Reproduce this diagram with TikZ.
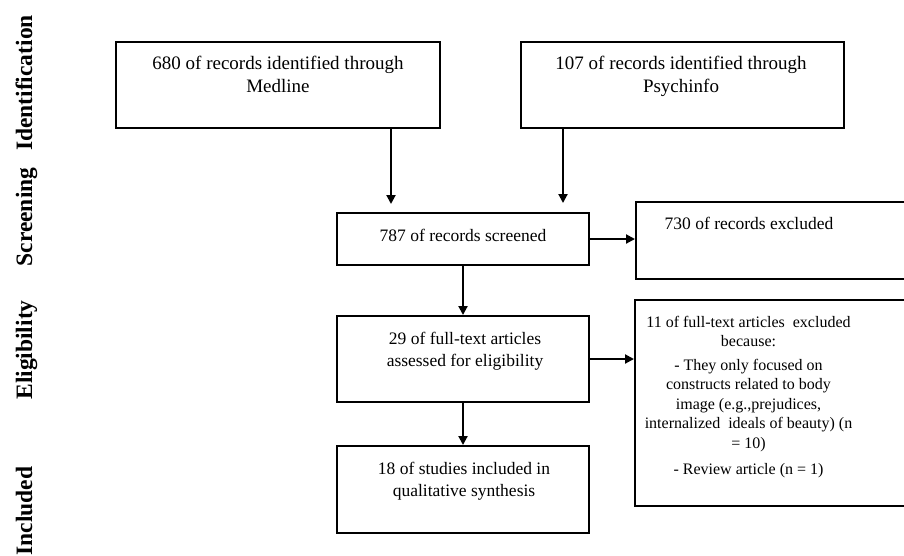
\documentclass[tikz,border=0pt]{standalone}
\usepackage{fontspec}
\setmainfont{Liberation Serif}
\usetikzlibrary{arrows.meta}
\begin{document}
\begin{tikzpicture}[x=1pt,y=-1pt,
  box/.style={draw, line width=2pt, inner sep=0pt, rectangle},
  txtbig/.style={align=center, inner sep=0pt, anchor=north, font=\fontsize{19}{23}\selectfont},
  txtmid/.style={align=center, inner sep=0pt, anchor=north, font=\fontsize{17.5}{21.5}\selectfont},
  txtsmall/.style={align=center, inner sep=0pt, anchor=north, font=\fontsize{16}{19.5}\selectfont},
  stage/.style={rotate=90, anchor=base, inner sep=0pt, font=\fontsize{23.5}{28}\selectfont\bfseries},
  arr/.style={line width=2pt, -{Triangle[length=9pt,width=9pt]}}]
\useasboundingbox (0,0) rectangle (904,555);
\clip (0,0) rectangle (904,555);
\fill[white] (0,0) rectangle (904,555);

% stage labels
\node[stage] (sid) at (32,83) {Identification};
\node[stage] (ssc) at (32,217) {Screening};
\node[stage] (sel) at (32,350) {Eligibility};
\node[stage] (sin) at (32,511) {Included};

% boxes
\node[box, minimum width=324, minimum height=86] (med) at (278,85) {};
\node[box, minimum width=323, minimum height=86] (psy) at (682.5,85) {};
\node[box, minimum width=252, minimum height=52] (scr) at (463,239) {};
\node[box, minimum width=279, minimum height=77] (exa) at (775.5,240.5) {};
\node[box, minimum width=252, minimum height=86] (eli) at (463,359) {};
\node[box, minimum width=280, minimum height=206] (exb) at (775,403) {};
\node[box, minimum width=252, minimum height=87] (inc) at (463,489.5) {};

% texts
\node[txtbig] (medt) at (278,56) {680 of records identified through\\Medline};
\node[txtbig] (psyt) at (681,56) {107 of records identified through\\Psychinfo};
\node[txtmid] (scrt) at (463,229) {787 of records screened};
\node[txtmid] (exat) at (749,217) {730 of records excluded};
\node[txtmid] (elit) at (465,332) {29 of full-text articles\\assessed for eligibility};
\node[txtmid] (inct) at (464,462) {18 of studies included in\\qualitative synthesis};
\node[txtsmall] (exbt) at (748.5,316) {11 of full-text articles\ \ excluded\\because:\\[4pt]- They only focused on\\constructs related to body\\image (e.g.,prejudices,\\internalized\ \ ideals of beauty) (n\\= 10)\\[7pt]- Review article (n = 1)};

% connectors
\coordinate (ma) at (391,0);
\coordinate (pa) at (563,0);
\draw[arr, shorten >=8pt] (med.south -| ma) -- (scr.north -| ma);
\draw[arr, shorten >=9pt] (psy.south -| pa) -- (scr.north -| pa);
\draw[arr] (scr.east) -- (scr.east -| exa.west);
\draw[arr] (scr.south) -- (eli.north);
\draw[arr] (eli.east) -- (eli.east -| exb.west);
\draw[arr] (eli.south) -- (inc.north);
\end{tikzpicture}
\end{document}
